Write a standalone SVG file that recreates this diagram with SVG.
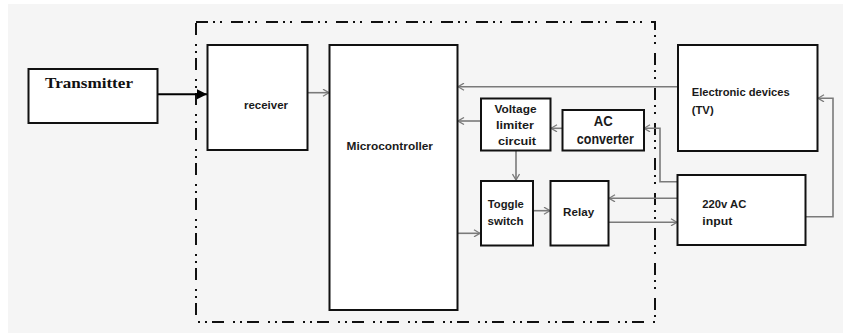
<svg xmlns="http://www.w3.org/2000/svg" width="843" height="335" viewBox="0 0 843 335">
<defs>
<style>
.box{fill:#fff;stroke:#111;stroke-width:2}
.con{fill:none;stroke:#7a7a7a;stroke-width:1.6}
.lbl{font-family:"Liberation Sans",Arial,sans-serif;font-weight:bold;font-size:11px;fill:#1a1a1a}
.big{font-size:14px}
.tx{font-family:"Liberation Serif","Times New Roman",serif;font-weight:bold;font-size:14px;fill:#111}
</style>
<marker id="open" markerWidth="8" markerHeight="8" refX="7" refY="4" orient="auto" markerUnits="userSpaceOnUse">
<path d="M1,0.5 L7,4 L1,7.5" fill="none" stroke="#7a7a7a" stroke-width="1.3"/>
</marker>
<marker id="solid" markerWidth="12" markerHeight="12" refX="10" refY="5" orient="auto" markerUnits="userSpaceOnUse">
<path d="M0,0 L10,5 L0,10 Z" fill="#000"/>
</marker>
</defs>
<rect x="0" y="0" width="843" height="335" fill="#fff"/>
<rect x="8" y="4" width="835" height="329" fill="#f5f5f5"/>
<g id="boundary">
<rect x="196" y="22" width="459" height="300" fill="none" stroke="#111" stroke-width="2" stroke-dasharray="12 5 2 5 2 9"/>
</g>
<g id="connectors">
<path d="M157,94.3 H207" fill="none" stroke="#000" stroke-width="2" marker-end="url(#solid)"/>
<path class="con" d="M308,92.7 H329" marker-end="url(#open)"/>
<path class="con" d="M677,86.7 H458" marker-end="url(#open)"/>
<path class="con" d="M480,121 H458" marker-end="url(#open)"/>
<path class="con" d="M562,128.3 H551" marker-end="url(#open)"/>
<path class="con" d="M677,181.7 H660 V128.3 H644" marker-end="url(#open)"/>
<path class="con" d="M516,151 V180" marker-end="url(#open)"/>
<path class="con" d="M458,233.3 H480" marker-end="url(#open)"/>
<path class="con" d="M533,210.7 H550" marker-end="url(#open)"/>
<path class="con" d="M677,198.3 H609" marker-end="url(#open)"/>
<path class="con" d="M609,222.3 H677" marker-end="url(#open)"/>
<path class="con" d="M806,216.7 H833 V98.3 H818" marker-end="url(#open)"/>
</g>
<g id="transmitter">
<rect class="box" x="28.5" y="69" width="129" height="54" stroke-width="1.8"/>
<text class="tx" x="45" y="87.5" textLength="88" lengthAdjust="spacingAndGlyphs">Transmitter</text>
</g>
<g id="receiver">
<rect class="box" x="207.5" y="45" width="100" height="105"/>
<text class="lbl" x="244" y="108.5" textLength="44" lengthAdjust="spacingAndGlyphs">receiver</text>
</g>
<g id="microcontroller">
<rect class="box" x="329.5" y="45" width="128" height="265"/>
<text class="lbl" x="346.5" y="150" font-size="12" textLength="86.5" lengthAdjust="spacingAndGlyphs">Microcontroller</text>
</g>
<g id="voltage-limiter">
<rect class="box" x="481" y="98.5" width="69.5" height="52"/>
<text class="lbl" x="515.5" y="113" text-anchor="middle" textLength="42" lengthAdjust="spacingAndGlyphs">Voltage</text>
<text class="lbl" x="515" y="129" text-anchor="middle" textLength="38" lengthAdjust="spacingAndGlyphs">limiter</text>
<text class="lbl" x="517" y="145" text-anchor="middle" textLength="38" lengthAdjust="spacingAndGlyphs">circuit</text>
</g>
<g id="ac-converter">
<rect class="box" x="562.5" y="110" width="81.5" height="40.5"/>
<text class="lbl big" x="603.3" y="125.5" text-anchor="middle" textLength="19" lengthAdjust="spacingAndGlyphs">AC</text>
<text class="lbl big" x="605.3" y="144" text-anchor="middle" textLength="57" lengthAdjust="spacingAndGlyphs">converter</text>
</g>
<g id="toggle-switch">
<rect class="box" x="481" y="181" width="52" height="64.5"/>
<text class="lbl" x="505.8" y="207.5" text-anchor="middle" textLength="36" lengthAdjust="spacingAndGlyphs">Toggle</text>
<text class="lbl" x="505.5" y="225" text-anchor="middle" textLength="36" lengthAdjust="spacingAndGlyphs">switch</text>
</g>
<g id="relay">
<rect class="box" x="550.5" y="181" width="58" height="64.5"/>
<text class="lbl" x="578.6" y="215.5" text-anchor="middle" textLength="31" lengthAdjust="spacingAndGlyphs">Relay</text>
</g>
<g id="electronic-devices">
<rect class="box" x="678" y="45" width="139.5" height="106"/>
<text class="lbl" x="691.7" y="96" textLength="98" lengthAdjust="spacingAndGlyphs">Electronic devices</text>
<text class="lbl" x="691.7" y="113.5" textLength="22" lengthAdjust="spacingAndGlyphs">(TV)</text>
</g>
<g id="ac-input">
<rect class="box" x="677.5" y="175" width="128" height="70"/>
<text class="lbl" x="702.3" y="207.5" textLength="44" lengthAdjust="spacingAndGlyphs">220v AC</text>
<text class="lbl" x="702.3" y="225" textLength="30" lengthAdjust="spacingAndGlyphs">input</text>
</g>
</svg>
